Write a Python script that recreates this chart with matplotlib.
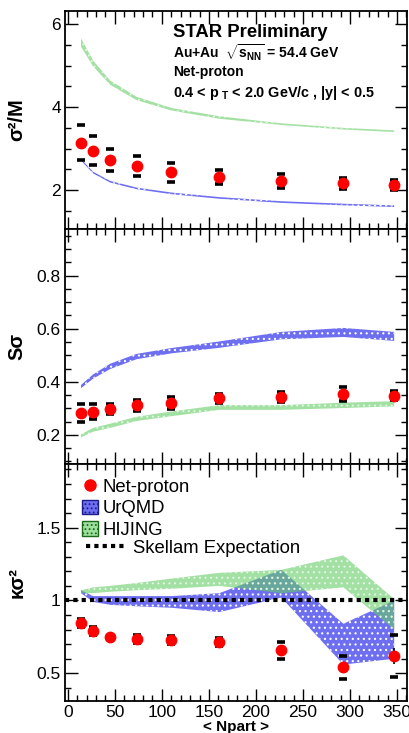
import matplotlib
matplotlib.use('Agg')
import matplotlib.pyplot as plt
from matplotlib.ticker import MultipleLocator, FuncFormatter
from matplotlib.lines import Line2D
from matplotlib.patches import Patch

plt.rcParams['font.family'] = ['Liberation Sans', 'DejaVu Sans']
plt.rcParams['mathtext.fontset'] = 'custom'
plt.rcParams['mathtext.rm'] = 'Liberation Sans'
plt.rcParams['mathtext.it'] = 'Liberation Sans:italic'
plt.rcParams['mathtext.bf'] = 'Liberation Sans:bold'
plt.rcParams['mathtext.default'] = 'bf'
plt.rcParams['hatch.linewidth'] = 0.8

# centrality (x axis)
npart = [14, 27, 45, 73, 110, 161, 227, 293, 347]

# sigma^2/M
c2 = [3.14, 2.95, 2.72, 2.58, 2.43, 2.31, 2.22, 2.16, 2.11]
c2_sys = [0.42, 0.35, 0.26, 0.23, 0.23, 0.17, 0.17, 0.14, 0.12]
c2_urqmd_lo = [2.71, 2.40, 2.18, 2.02, 1.90, 1.79, 1.69, 1.63, 1.59]
c2_urqmd_hi = [2.75, 2.44, 2.22, 2.06, 1.94, 1.83, 1.73, 1.67, 1.63]
c2_hijing_lo = [5.46, 4.98, 4.54, 4.17, 3.92, 3.72, 3.57, 3.46, 3.40]
c2_hijing_hi = [5.66, 5.12, 4.64, 4.25, 3.98, 3.78, 3.61, 3.50, 3.44]

# S sigma
ss = [0.283, 0.287, 0.298, 0.311, 0.321, 0.337, 0.342, 0.355, 0.348]
ss_sys = [0.034, 0.028, 0.020, 0.021, 0.023, 0.017, 0.019, 0.027, 0.017]
ss_stat = [0.012, 0.012, 0.012, 0.012, 0.012, 0.012, 0.012, 0.014, 0.012]
ss_urqmd_lo = [0.376, 0.412, 0.448, 0.485, 0.507, 0.528, 0.560, 0.569, 0.554]
ss_urqmd_hi = [0.388, 0.428, 0.468, 0.505, 0.527, 0.552, 0.588, 0.603, 0.588]
ss_hijing_lo = [0.190, 0.212, 0.226, 0.252, 0.270, 0.294, 0.294, 0.301, 0.307]
ss_hijing_hi = [0.202, 0.226, 0.242, 0.268, 0.288, 0.312, 0.312, 0.321, 0.327]

# kappa sigma^2
k = [0.847, 0.792, 0.747, 0.735, 0.728, 0.712, 0.658, 0.541, 0.621]
k_sys = [0.027, 0.027, 0.010, 0.026, 0.030, 0.028, 0.057, 0.081, 0.145]
k_stat = [0.010, 0.010, 0.010, 0.010, 0.015, 0.015, 0.020, 0.030, 0.055]
k_urqmd_lo = [1.05, 0.99, 0.97, 0.96, 0.95, 0.92, 1.02, 0.56, 0.60]
k_urqmd_hi = [1.07, 1.03, 1.03, 1.03, 1.03, 1.05, 1.21, 0.84, 1.00]
k_hijing_lo = [1.05, 1.05, 1.06, 1.07, 1.08, 1.10, 1.05, 1.09, 0.80]
k_hijing_hi = [1.07, 1.09, 1.10, 1.12, 1.15, 1.19, 1.21, 1.31, 1.01]

blue = '#6e6ef0'
green = '#66cc66'

fig = plt.figure(figsize=(4.09, 7.33), dpi=100)
ax1 = fig.add_axes([0.159, 0.6876, 0.836, 0.2974])
ax2 = fig.add_axes([0.159, 0.3670, 0.836, 0.3206])
ax3 = fig.add_axes([0.159, 0.0437, 0.836, 0.3233])

panels = [
    (ax1, c2, c2_sys, None, c2_urqmd_lo, c2_urqmd_hi, c2_hijing_lo, c2_hijing_hi),
    (ax2, ss, ss_sys, ss_stat, ss_urqmd_lo, ss_urqmd_hi, ss_hijing_lo, ss_hijing_hi),
    (ax3, k, k_sys, k_stat, k_urqmd_lo, k_urqmd_hi, k_hijing_lo, k_hijing_hi),
]

for ax, y, sys, stat, ulo, uhi, hlo, hhi in panels:
    ax.fill_between(npart, ulo, uhi, facecolor=blue, edgecolor='white',
                    hatch='...', linewidth=0, zorder=1)
    ax.fill_between(npart, hlo, hhi, facecolor=green, edgecolor='white',
                    hatch='...', linewidth=0, alpha=0.6, zorder=2)
    if ax is ax3:
        ax.axhline(1, color='black', lw=3, ls=(0, (1, 1)), zorder=3)
    if stat is not None:
        ax.errorbar(npart, y, yerr=stat, fmt='none', ecolor='black',
                    elinewidth=1.2, capsize=0, zorder=4)
    ax.plot(npart, [a + b for a, b in zip(y, sys)], ls='none', marker='_',
            ms=5.5, mew=2.6, color='black', zorder=4)
    ax.plot(npart, [a - b for a, b in zip(y, sys)], ls='none', marker='_',
            ms=5.5, mew=2.6, color='black', zorder=4)
    ax.plot(npart, y, 'o', color='red', mec='red', ms=7.5, zorder=5)

    ax.set_xlim(-3, 360.6)
    ax.xaxis.set_major_locator(MultipleLocator(50))
    ax.xaxis.set_minor_locator(MultipleLocator(10))
    ax.tick_params(which='both', direction='in', top=True, right=True,
                   labelsize=12.5, width=1)
    ax.tick_params(which='major', length=9, pad=3)
    ax.tick_params(which='minor', length=4.5)
    ax.yaxis.set_major_formatter(FuncFormatter(lambda v, p: f'{v:g}'))
    for s in ax.spines.values():
        s.set_linewidth(1.3)

ax1.set_ylim(1.06, 6.32)
ax1.yaxis.set_major_locator(MultipleLocator(2))
ax1.yaxis.set_minor_locator(MultipleLocator(0.5))
ax2.set_ylim(0.09, 0.976)
ax2.yaxis.set_major_locator(MultipleLocator(0.2))
ax2.yaxis.set_minor_locator(MultipleLocator(0.05))
ax3.set_ylim(0.31, 1.937)
ax3.yaxis.set_major_locator(MultipleLocator(0.5))
ax3.yaxis.set_minor_locator(MultipleLocator(0.1))
ax1.tick_params(labelbottom=False)
ax2.tick_params(labelbottom=False)

ax1.set_ylabel('σ²/M', fontsize=14.5, fontweight='bold')
ax2.set_ylabel('Sσ', fontsize=14.5, fontweight='bold')
ax3.set_ylabel('κσ²', fontsize=14.5, fontweight='bold')
for ax in (ax1, ax2, ax3):
    ax.yaxis.set_label_coords(-0.112, 0.5)
ax3.set_xlabel('< Npart >', fontsize=11, fontweight='bold', labelpad=0)

ax1.text(0.316, 0.9, 'STAR Preliminary', transform=ax1.transAxes,
         fontsize=13.3, fontweight='bold', va='center')
ax1.text(0.316, 0.81, r'Au+Au  $\sqrt{s_{NN}}$ = 54.4 GeV', transform=ax1.transAxes,
         fontsize=10, fontweight='bold', va='center')
ax1.text(0.316, 0.718, 'Net-proton', transform=ax1.transAxes,
         fontsize=10, fontweight='bold', va='center')
ax1.text(0.316, 0.626, r'0.4 < $p_{\ T}$ < 2.0 GeV/c , |y| < 0.5', transform=ax1.transAxes,
         fontsize=10.4, fontweight='bold', va='center')

h_np = Line2D([], [], marker='o', ls='none', color='red', ms=8)
h_u = Patch(facecolor=blue, edgecolor='#1a1a8a', hatch='....', lw=1)
h_h = Patch(facecolor='#9ee09e', edgecolor='#1a6a1a', hatch='....', lw=1)
leg1 = ax3.legend([h_np, h_u, h_h], ['Net-proton', 'UrQMD', 'HIJING'],
                  loc='upper left', bbox_to_anchor=(0.05, 0.94), frameon=False,
                  fontsize=13.3, borderpad=0, handlelength=0.85, handleheight=0.85,
                  handletextpad=0.25, labelspacing=0.2, borderaxespad=0)
ax3.add_artist(leg1)
h_sk = Line2D([], [], color='black', lw=3, ls=(0, (1, 1)))
ax3.legend([h_sk], ['Skellam Expectation'], loc='upper left',
           bbox_to_anchor=(0.062, 0.68), frameon=False, fontsize=13.3,
           borderpad=0, handlelength=2.1, handletextpad=0.45, borderaxespad=0)

fig.savefig('out.png', dpi=100)
